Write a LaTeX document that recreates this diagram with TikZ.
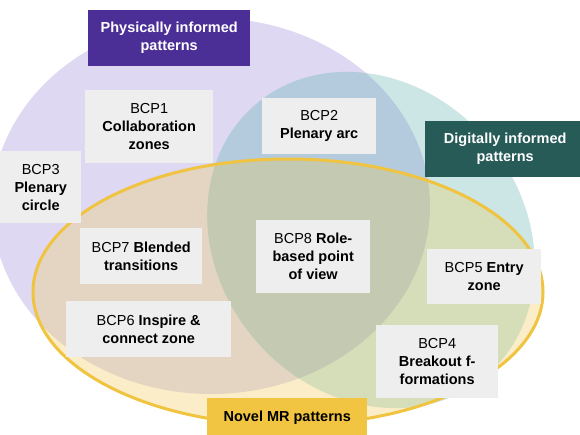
\documentclass[tikz,border=0pt]{standalone}
\usepackage{fontspec}
\setmainfont{Liberation Sans}
\definecolor{purpleFill}{RGB}{222,216,242}
\definecolor{tealFill}{RGB}{204,229,229}
\definecolor{ptFill}{RGB}{180,202,221}
\definecolor{yellowFill}{RGB}{250,237,200}
\definecolor{pyFill}{RGB}{228,213,195}
\definecolor{tyFill}{RGB}{214,222,185}
\definecolor{ptyFill}{RGB}{196,201,178}
\definecolor{yellowLine}{RGB}{240,196,64}
\definecolor{boxGray}{RGB}{238,238,238}
\definecolor{physBox}{RGB}{75,47,150}
\definecolor{digiBox}{RGB}{38,91,88}
\definecolor{novelBox}{RGB}{241,196,65}
\tikzset{
  txtbox/.style={fill=boxGray, inner sep=0pt, anchor=north west, align=center,
    font=\fontsize{14.5}{18}\selectfont, text=black},
  titlebox/.style={inner sep=0pt, anchor=north west, align=center,
    font=\fontsize{14.5}{18}\selectfont\bfseries},
}
\newcommand{\purplePath}{(211,-206) ellipse [x radius=219pt, y radius=188pt]}
\newcommand{\yellowPath}{(288,-292) ellipse [x radius=255pt, y radius=133pt]}
\newcommand{\tealPath}{[rotate around={-50:(371,-240)}] (371,-240) ellipse [x radius=178pt, y radius=153pt]}
\begin{document}
\begin{tikzpicture}[x=1pt,y=1pt]
\clip (0,0) rectangle (580,-435);
\fill[white] (0,0) rectangle (580,-435);
% base fills
\fill[purpleFill] \purplePath;
\fill[tealFill] \tealPath;
\fill[yellowFill] \yellowPath;
% overlaps
\begin{scope}
  \clip \purplePath;
  \fill[ptFill] \tealPath;
  \fill[pyFill] \yellowPath;
\end{scope}
\begin{scope}
  \clip \tealPath;
  \fill[tyFill] \yellowPath;
\end{scope}
\begin{scope}
  \clip \purplePath;
  \clip \tealPath;
  \fill[ptyFill] \yellowPath;
\end{scope}
\draw[yellowLine, line width=3pt] \yellowPath;
% boxes
\node[titlebox, fill=physBox, text=white, minimum width=162pt, minimum height=56pt] (phys) at (88,-10) {Physically informed\\patterns};
\node[titlebox, fill=digiBox, text=white, minimum width=160pt, minimum height=56pt] (digi) at (425,-121) {Digitally informed\\patterns};
\node[titlebox, fill=novelBox, text=black, minimum width=160pt, minimum height=40pt] (novel) at (207,-398) {Novel MR patterns};
\node[txtbox, minimum width=128pt, minimum height=73pt] (bcp1) at (85,-90) {BCP1\\\textbf{Collaboration}\\\textbf{zones}};
\node[txtbox, minimum width=81pt, minimum height=72pt] (bcp3) at (0,-151) {BCP3\\\textbf{Plenary}\\\textbf{circle}};
\node[txtbox, minimum width=114pt, minimum height=56pt] (bcp2) at (262,-98) {BCP2\\\textbf{Plenary arc}};
\node[txtbox, minimum width=122pt, minimum height=56pt] (bcp7) at (80,-228) {BCP7 \textbf{Blended}\\\textbf{transitions}};
\node[txtbox, minimum width=165pt, minimum height=56pt] (bcp6) at (66,-301) {BCP6 \textbf{Inspire \&}\\\textbf{connect zone}};
\node[txtbox, minimum width=114pt, minimum height=73pt] (bcp8) at (256,-220) {BCP8 \textbf{Role-}\\\textbf{based point}\\\textbf{of view}};
\node[txtbox, minimum width=114pt, minimum height=55pt] (bcp5) at (427,-249) {BCP5 \textbf{Entry}\\\textbf{zone}};
\node[txtbox, minimum width=122pt, minimum height=73pt] (bcp4) at (376,-325) {BCP4\\\textbf{Breakout f-}\\\textbf{formations}};
\end{tikzpicture}
\end{document}
